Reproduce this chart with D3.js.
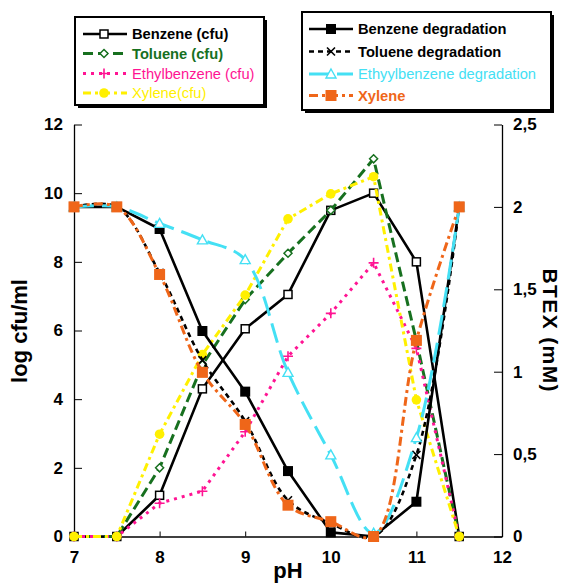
<!DOCTYPE html>
<html><head><meta charset="utf-8">
<script src="https://cdn.jsdelivr.net/npm/d3@7"></script>
<style>body{margin:0;background:#fff}svg{display:block}text{font-family:"Liberation Sans",Arial,sans-serif}</style>
</head><body><svg id="c" width="564" height="583"></svg>
<script>
// ---- data ----
const pH = [7, 7.5, 8, 8.5, 9, 9.5, 10, 10.5, 11, 11.5];
const benzeneCfu      = [0, 0, 1.2, 4.3, 6.05, 7.05, 9.5, 10.0, 8.0, 0];
const tolueneCfu      = [0, 0, 2.0, 5.0, 6.9, 8.25, 9.5, 11.0, 5.7, 0];
const ethylbenzeneCfu = [0, 0, 0.97, 1.32, 3.05, 5.25, 6.5, 7.97, 5.48, 0];
const xyleneCfu       = [0, 0, 2.98, 5.3, 7.03, 9.25, 9.98, 10.48, 3.98, 0];
const benzeneDeg      = [2, 2, 1.866, 1.247, 0.879, 0.397, 0.025, 0, 0.211, 2];
const tolueneDeg      = [2, 2, 1.6, 1.07, 0.7, 0.22, 0.08, 0, 0.495, 2];
const ethylbenzeneDeg = [2, 2, 1.9, 1.8, 1.68, 0.996, 0.495, 0.02, 0.6, 2];
const xyleneDeg       = [2, 2, 1.59, 0.996, 0.68, 0.19, 0.09, 0, 1.19, 2];
const xTicks = [7, 8, 9, 10, 11, 12];
const yLeftTicks = [0, 2, 4, 6, 8, 10, 12];
const yRightTicks = [0, 0.5, 1, 1.5, 2, 2.5];
const yRightLabels = ["0", "0,5", "1", "1,5", "2", "2,5"];
const legend1 = ["Benzene (cfu)", "Toluene (cfu)", "Ethylbenzene (cfu)", "Xylene(cfu)"];
const legend2 = ["Benzene degradation", "Toluene degradation", "Ethyylbenzene degradation", "Xylene"];

// ---- styles ----
const GREEN = "#17701f", PINK = "#ff1493", YELLOW = "#fff000", CYAN = "#44e0f4", ORANGE = "#ef6619";
const series = [
  {vals: benzeneCfu, axis: "L", color: "#000", width: 2.6, dash: null, marker: "openSquare", curve: d3.curveLinear},
  {vals: tolueneCfu, axis: "L", color: GREEN, width: 3, dash: "10,5", marker: "openDiamond", curve: d3.curveLinear},
  {vals: ethylbenzeneCfu, axis: "L", color: PINK, width: 3, dash: "3,5", marker: "plus", curve: d3.curveLinear},
  {vals: xyleneCfu, axis: "L", color: YELLOW, width: 3, dash: "8,4,3,4", marker: "circle", curve: d3.curveLinear},
  {vals: benzeneDeg, axis: "R", color: "#000", width: 2.6, dash: null, marker: "filledSquare", curve: d3.curveLinear},
  {vals: tolueneDeg, axis: "R", color: "#000", width: 2.6, dash: "5,4", marker: "x", curve: d3.curveCatmullRom},
  {vals: ethylbenzeneDeg, axis: "R", color: CYAN, width: 3, dash: "20,8", marker: "openTriangle", curve: d3.curveCatmullRom},
  {vals: xyleneDeg, axis: "R", color: ORANGE, width: 3, dash: "9,4,3,4", marker: "orangeSquare", curve: d3.curveCatmullRom}
];

const svg = d3.select("#c");
const x = d3.scaleLinear().domain([7, 12]).range([74, 502]);
const yL = d3.scaleLinear().domain([0, 12]).range([536.5, 124.5]);
const yR = d3.scaleLinear().domain([0, 2.5]).range([536.5, 124.5]);

function marker(g, type, cx, cy, color) {
  if (type === "openSquare") g.append("rect").attr("x", cx-4).attr("y", cy-4).attr("width", 8).attr("height", 8).attr("fill", "#fff").attr("stroke", color).attr("stroke-width", 1.5);
  else if (type === "openDiamond") g.append("path").attr("d", `M${cx},${cy-4}L${cx+4},${cy}L${cx},${cy+4}L${cx-4},${cy}Z`).attr("fill", "#fff").attr("stroke", color).attr("stroke-width", 1.5);
  else if (type === "plus") g.append("path").attr("d", `M${cx-5},${cy}H${cx+5}M${cx},${cy-5}V${cy+5}`).attr("stroke", color).attr("stroke-width", 1.6).attr("fill", "none");
  else if (type === "circle") g.append("circle").attr("cx", cx).attr("cy", cy).attr("r", 4.8).attr("fill", color);
  else if (type === "filledSquare") g.append("rect").attr("x", cx-5).attr("y", cy-5).attr("width", 10).attr("height", 10).attr("fill", color);
  else if (type === "x") g.append("path").attr("d", `M${cx-4},${cy-4}L${cx+4},${cy+4}M${cx+4},${cy-4}L${cx-4},${cy+4}`).attr("stroke", color).attr("stroke-width", 1.6).attr("fill", "none");
  else if (type === "openTriangle") g.append("path").attr("d", `M${cx},${cy-5}L${cx+5},${cy+4}L${cx-5},${cy+4}Z`).attr("fill", "#fff").attr("stroke", color).attr("stroke-width", 1.4);
  else if (type === "orangeSquare") g.append("rect").attr("x", cx-5.5).attr("y", cy-5.5).attr("width", 11).attr("height", 11).attr("fill", color);
}

// ---- axes ----
const axL = svg.append("g").attr("transform", "translate(74,0)")
  .call(d3.axisLeft(yL).tickValues(yLeftTicks).tickSizeInner(-8).tickSizeOuter(0).tickPadding(11));
const axR = svg.append("g").attr("transform", "translate(502,0)")
  .call(d3.axisRight(yR).tickValues(yRightTicks).tickFormat((d, i) => yRightLabels[i]).tickSizeInner(-8).tickSizeOuter(0).tickPadding(11));
const axB = svg.append("g").attr("transform", "translate(0,536.5)")
  .call(d3.axisBottom(x).tickValues(xTicks).tickFormat(d3.format("d")).tickSizeInner(-5).tickSizeOuter(0).tickPadding(14));
[axL, axR, axB].forEach(a => {
  a.selectAll("text").attr("font-size", 17).attr("font-weight", "bold").attr("fill", "#000").attr("font-family", '"Liberation Sans",Arial,sans-serif');
  a.selectAll("line").attr("stroke", "#000").attr("stroke-width", 1);
  a.select(".domain").attr("stroke", "#000").attr("stroke-width", 1.3);
});
axB.selectAll(".tick").filter(d => d === 7 || d === 12).select("line").remove();

// axis titles
svg.append("text").attr("transform", "translate(27,331) rotate(-90)").attr("text-anchor", "middle")
  .attr("font-size", 22).attr("font-weight", "bold").text("log cfu/ml");
svg.append("text").attr("transform", "translate(543,330) rotate(90)").attr("text-anchor", "middle")
  .attr("font-size", 21).attr("font-weight", "bold").attr("textLength", 123).attr("lengthAdjust", "spacing").text("BTEX (mM)");
svg.append("text").attr("x", 288).attr("y", 578).attr("text-anchor", "middle")
  .attr("font-size", 22).attr("font-weight", "bold").text("pH");

// ---- series ----
const plot = svg.append("g");
series.forEach(s => {
  const y = s.axis === "L" ? yL : yR;
  const line = d3.line().x((d, i) => x(pH[i])).y(d => y(d)).curve(s.curve);
  const g = plot.append("g");
  g.append("path").datum(s.vals).attr("d", line).attr("fill", "none").attr("stroke", s.color)
    .attr("stroke-width", s.width).attr("stroke-dasharray", s.dash).attr("stroke-linejoin", "round");
  s.vals.forEach((v, i) => marker(g, s.marker, x(pH[i]), y(v), s.color));
});

// ---- legends ----
function legendBox(bx, by, bw, bh) {
  svg.append("rect").attr("x", bx+3).attr("y", by+3).attr("width", bw).attr("height", bh).attr("fill", "#000");
  svg.append("rect").attr("x", bx).attr("y", by).attr("width", bw).attr("height", bh).attr("fill", "#fff").attr("stroke", "#000").attr("stroke-width", 2);
}
legendBox(75, 17, 189, 88);
legendBox(302, 12, 249, 98);
const leg1Y = [34, 53.5, 73.5, 93];
const leg1Colors = ["#000", GREEN, PINK, YELLOW];
const leg1Weights = ["bold", "bold", "normal", "normal"];
legend1.forEach((t, i) => {
  const s = series[i];
  const g = svg.append("g");
  g.append("line").attr("x1", 83).attr("x2", 127).attr("y1", leg1Y[i]).attr("y2", leg1Y[i]).attr("stroke", s.color).attr("stroke-width", s.width).attr("stroke-dasharray", s.dash);
  marker(g, s.marker, 104, leg1Y[i], s.color);
  g.append("text").attr("x", 132).attr("y", leg1Y[i]).attr("dy", "0.36em").attr("font-size", 14.7).attr("font-weight", leg1Weights[i]).attr("fill", leg1Colors[i]).text(t);
});
const leg2Y = [29, 51.5, 74, 95.5];
const leg2Colors = ["#000", "#000", CYAN, ORANGE];
const leg2Weights = ["bold", "bold", "normal", "bold"];
legend2.forEach((t, i) => {
  const s = series[i + 4];
  const g = svg.append("g");
  g.append("line").attr("x1", 309).attr("x2", 353).attr("y1", leg2Y[i]).attr("y2", leg2Y[i]).attr("stroke", s.color).attr("stroke-width", s.width).attr("stroke-dasharray", s.dash);
  marker(g, s.marker, 331, leg2Y[i], s.color);
  g.append("text").attr("x", 358).attr("y", leg2Y[i]).attr("dy", "0.36em").attr("font-size", 14.7).attr("font-weight", leg2Weights[i]).attr("fill", leg2Colors[i]).text(t);
});
</script></body></html>
